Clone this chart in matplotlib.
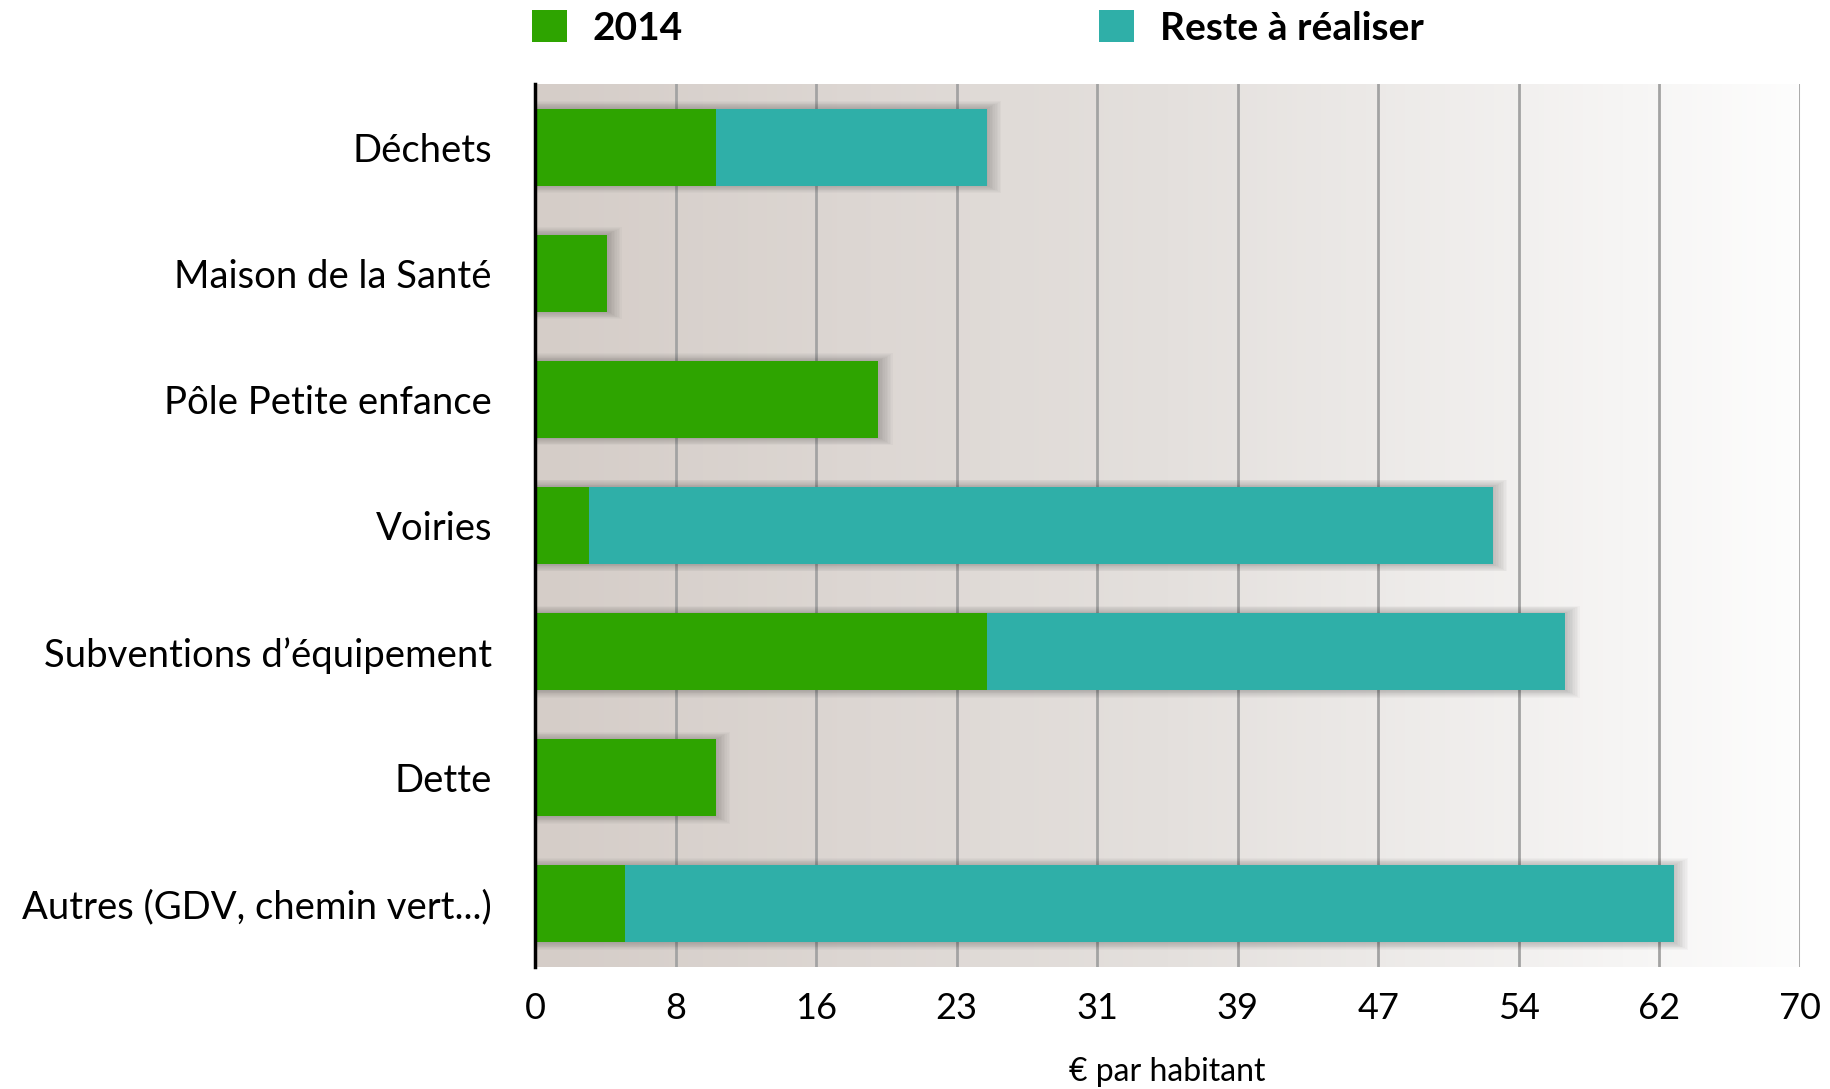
import numpy as np
import matplotlib
matplotlib.use("Agg")
import matplotlib.pyplot as plt
from matplotlib.colors import LinearSegmentedColormap
from matplotlib.patches import Patch

# ── Data ────────────────────────────────────────────────
categories = ["Déchets", "Maison de la Santé", "Pôle Petite enfance",
              "Voiries", "Subventions d’équipement", "Dette",
              "Autres (GDV, chemin vert...)"]
val_2014 = [10, 4, 19, 3, 25, 10, 5]
val_reste = [15, 0, 0, 50, 32, 0, 58]
tick_vals = np.linspace(0, 70, 10)
tick_labels = ["0", "8", "16", "23", "31", "39", "47", "54", "62", "70"]

GREEN = "#2ea400"
TEAL = "#2fafa8"

plt.rcParams["font.family"] = ["Lato", "DejaVu Sans"]

fig = plt.figure(figsize=(18.31, 10.89), dpi=100)
ax = fig.add_axes([0.2922, 0.1120, 0.6909, 0.8109])

y = np.arange(len(categories))
ax.set_xlim(0, 70)
ax.set_ylim(len(categories) - 0.5, -0.5)

# background gradient
cmap = LinearSegmentedColormap.from_list("bg", ["#d5cdc8", "#e4e0dd", "#fdfdfd"])
grad = np.linspace(0, 1, 256).reshape(1, -1)
ax.imshow(grad, cmap=cmap, aspect="auto", extent=[0, 70, len(categories) - 0.5, -0.5],
          zorder=0)

# gridlines
for t in tick_vals[1:]:
    ax.axvline(t, color="#a3a3a3", linewidth=2, zorder=1)

# soft shadows behind bars
totals = np.array(val_2014) + np.array(val_reste)
bar_h = 0.61
for k in range(1, 10):
    ax.barh(y, totals + 0.09 * k, height=bar_h + 0.013 * k, left=0,
            color="black", alpha=0.025, linewidth=0, zorder=2)

ax.barh(y, val_2014, height=bar_h, color=GREEN, linewidth=0, zorder=3, label="2014")
ax.barh(y, val_reste, height=bar_h, left=val_2014, color=TEAL, linewidth=0, zorder=3,
        label="Reste à réaliser")

ax.set_yticks(y)
ax.set_yticklabels(categories, fontsize=27.5)
ax.set_xticks(tick_vals)
ax.set_xticklabels(tick_labels, fontsize=26)
ax.tick_params(axis="y", length=0, pad=31)
ax.tick_params(axis="x", length=0, pad=18)
ax.set_xlabel("€ par habitant", fontsize=23, labelpad=23)

for s in ["top", "right", "bottom"]:
    ax.spines[s].set_visible(False)
ax.spines["left"].set_linewidth(2.5)
ax.spines["left"].set_color("black")
ax.spines["left"].set_zorder(5)

handles = [Patch(facecolor=GREEN, label="2014"),
           Patch(facecolor=TEAL, label="Reste à réaliser")]
fig.legend(handles=handles, loc="upper left", bbox_to_anchor=(532 / 1831, 1 - 10 / 1089),
           ncol=2, frameon=False, prop={"weight": "bold", "size": 28},
           borderaxespad=0, borderpad=0,
           handlelength=0.9, handleheight=0.9, handletextpad=0.66, columnspacing=10.7)

plt.savefig("out.png", dpi=100)
plt.close()
